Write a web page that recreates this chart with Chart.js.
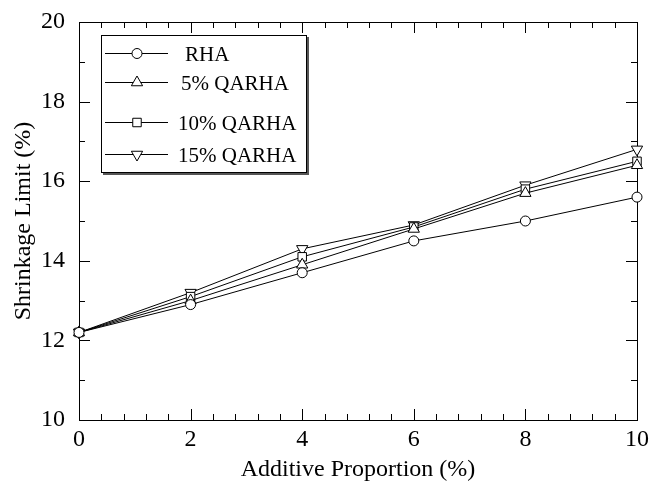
<!DOCTYPE html>
<html>
<head>
<meta charset="utf-8">
<script src="https://cdn.jsdelivr.net/npm/chart.js@4.4.1/dist/chart.umd.min.js"></script>
<style>
  html, body { margin: 0; padding: 0; background: #fff; }
  #wrap { width: 649px; height: 482px; }
</style>
</head>
<body>
<div id="wrap"><canvas id="chart" width="649" height="482"></canvas></div>
<script>
const proportions = [0, 2, 4, 6, 8, 10]
const rha = [12.2, 12.9, 13.7, 14.5, 15.0, 15.6]
const qarha5 = [12.2, 13.0, 13.9, 14.8, 15.7, 16.4]
const qarha10 = [12.2, 13.1, 14.1, 14.85, 15.8, 16.5]
const qarha15 = [12.2, 13.2, 14.3, 14.9, 15.9, 16.8]
const seriesNames = ['RHA', '5% QARHA', '10% QARHA', '15% QARHA']
const xTicks = [0, 2, 4, 6, 8, 10]
const yTicks = [10, 12, 14, 16, 18, 20]

const serif = '"Liberation Serif", "Times New Roman", serif'

function toPoints (values) {
  return proportions.map((p, i) => ({ x: p, y: values[i] }))
}

const markerStyles = [
  { pointStyle: 'circle', radius: 5 },
  { pointStyle: 'triangle', radius: 6.5 },
  { pointStyle: 'rect', radius: 6 },
  { pointStyle: 'triangle', radius: 6.5, rotation: 180 }
]

const datasets = [rha, qarha5, qarha10, qarha15].map((vals, i) => ({
  label: seriesNames[i],
  data: toPoints(vals),
  borderColor: '#000',
  borderWidth: 1,
  backgroundColor: '#fff',
  pointStyle: markerStyles[i].pointStyle,
  pointRadius: markerStyles[i].radius,
  pointRotation: markerStyles[i].rotation || 0,
  pointBorderColor: '#000',
  pointBackgroundColor: '#fff',
  pointBorderWidth: 1,
  showLine: true,
  tension: 0,
  clip: false
}))

// frame + inward ticks on all four sides
const framePlugin = {
  id: 'frame',
  beforeDatasetsDraw (chart) {
    const ctx = chart.ctx
    const a = chart.chartArea
    const xs = chart.scales.x
    const ys = chart.scales.y
    ctx.save()
    ctx.strokeStyle = '#000'
    ctx.lineWidth = 1
    ctx.strokeRect(a.left + 0.5, a.top + 0.5, a.right - a.left, a.bottom - a.top)
    ctx.beginPath()
    for (let v = 0; v <= 10.001; v += 0.4) {
      const major = Math.abs(v / 2 - Math.round(v / 2)) < 0.01
      const len = major ? 11 : 6
      const px = Math.round(xs.getPixelForValue(v)) + 0.5
      ctx.moveTo(px, a.bottom)
      ctx.lineTo(px, a.bottom - len)
      ctx.moveTo(px, a.top)
      ctx.lineTo(px, a.top + len)
    }
    for (let v = 10; v <= 20; v += 1) {
      const len = v % 2 === 0 ? 11 : 6
      const py = Math.round(ys.getPixelForValue(v)) + 0.5
      ctx.moveTo(a.left, py)
      ctx.lineTo(a.left + len, py)
      ctx.moveTo(a.right, py)
      ctx.lineTo(a.right - len, py)
    }
    ctx.stroke()
    ctx.restore()
  }
}

// boxed legend with line + marker samples
const legendBoxPlugin = {
  id: 'legendBox',
  afterDraw (chart) {
    const ctx = chart.ctx
    const box = { left: 101, top: 35, right: 307, bottom: 173 }
    const rows = [53, 82, 122, 154]
    const textX = [185, 181, 178, 178]
    ctx.save()
    ctx.fillStyle = '#fff'
    ctx.fillRect(box.left, box.top, box.right - box.left, box.bottom - box.top)
    ctx.strokeStyle = '#555'
    ctx.lineWidth = 2
    ctx.beginPath()
    ctx.moveTo(box.right + 1, box.top + 2)
    ctx.lineTo(box.right + 1, box.bottom + 1)
    ctx.lineTo(box.left + 2, box.bottom + 1)
    ctx.stroke()
    ctx.strokeStyle = '#000'
    ctx.lineWidth = 1
    ctx.strokeRect(box.left + 0.5, box.top + 0.5, box.right - box.left - 1, box.bottom - box.top - 1)
    chart.data.datasets.forEach((ds, i) => {
      const y = rows[i] + 0.5
      ctx.beginPath()
      ctx.moveTo(105, y)
      ctx.lineTo(168, y)
      ctx.strokeStyle = '#000'
      ctx.lineWidth = 1
      ctx.stroke()
      ctx.fillStyle = '#fff'
      Chart.helpers.drawPoint(ctx, {
        pointStyle: ds.pointStyle,
        radius: ds.pointRadius,
        rotation: ds.pointRotation,
        borderWidth: 1
      }, 137, y)
      ctx.fillStyle = '#000'
      ctx.font = '21px ' + serif
      ctx.textBaseline = 'middle'
      ctx.textAlign = 'left'
      ctx.fillText(ds.label, textX[i], y + 2)
    })
    ctx.restore()
  }
}

new Chart(document.getElementById('chart'), {
  type: 'scatter',
  data: { datasets: datasets },
  options: {
    responsive: false,
    animation: false,
    layout: { padding: { top: 22, right: 12, left: 0, bottom: 0 } },
    plugins: { legend: { display: false }, tooltip: { enabled: false } },
    scales: {
      x: {
        type: 'linear',
        min: 0,
        max: 10,
        afterBuildTicks: scale => { scale.ticks = xTicks.map(v => ({ value: v })) },
        grid: { display: false, drawTicks: false },
        border: { display: false },
        ticks: { color: '#000', font: { family: serif, size: 24, lineHeight: 1 }, padding: 8, maxRotation: 0 },
        title: { display: true, text: 'Additive Proportion (%)', color: '#000', font: { family: serif, size: 24, lineHeight: 1 }, padding: { top: 2, bottom: 0 } },
        afterFit: scale => {
          scale.height = 62
          scale.paddingLeft = 0
          scale.paddingRight = 0
        }
      },
      y: {
        type: 'linear',
        min: 10,
        max: 20,
        afterBuildTicks: scale => { scale.ticks = yTicks.map(v => ({ value: v })) },
        grid: { display: false, drawTicks: false },
        border: { display: false },
        ticks: { color: '#000', font: { family: serif, size: 24 }, padding: 14 },
        title: { display: true, text: 'Shrinkage Limit (%)', color: '#000', font: { family: serif, size: 24, lineHeight: 1 }, padding: { top: 12, bottom: 0 } },
        afterFit: scale => {
          scale.width = 79
          scale.paddingTop = 0
          scale.paddingBottom = 0
        }
      }
    }
  },
  plugins: [framePlugin, legendBoxPlugin]
})
</script>
</body>
</html>
